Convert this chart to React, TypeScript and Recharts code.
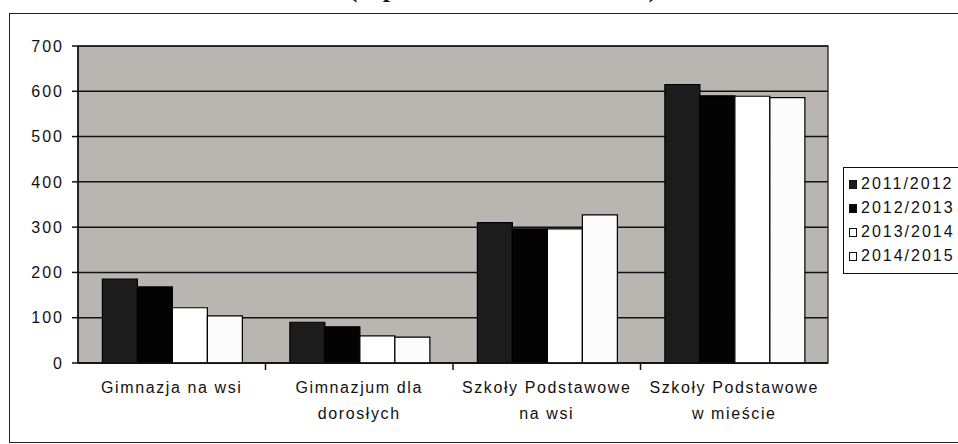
import { BarChart, Bar, XAxis, YAxis, CartesianGrid, ReferenceArea } from 'recharts'

// ─── Data ─────────────────────────────────────────────────────────────────────

const categories = [
  'Gimnazja na wsi',
  'Gimnazjum dla\ndorosłych',
  'Szkoły Podstawowe\nna wsi',
  'Szkoły Podstawowe\nw mieście',
]

const seriesNames = ['2011/2012', '2012/2013', '2013/2014', '2014/2015']

const values2011 = [185, 90, 310, 615]
const values2012 = [168, 80, 296, 590]
const values2013 = [122, 60, 296, 589]
const values2014 = [104, 57, 327, 586]

const yTicks = [0, 100, 200, 300, 400, 500, 600, 700]

const seriesFills = ['#1c1c1c', '#030303', '#ffffff', '#fcfcfc']

const data = categories.map((name, i) => ({
  name,
  s2011: values2011[i],
  s2012: values2012[i],
  s2013: values2013[i],
  s2014: values2014[i],
}))

const seriesKeys = ['s2011', 's2012', 's2013', 's2014']

const FONT = '"Liberation Sans", Arial, sans-serif'

// ─── Axis tick (labels centred, tick marks on category boundaries) ───────────

function CategoryTick(props: any) {
  const { x, y, payload, index } = props
  const lines = String(payload.value).split('\n')
  const half = 750 / categories.length / 2
  return (
    <g>
      {index > 0 && (
        <line x1={x - half} x2={x - half} y1={y} y2={y + 7} stroke="#111" strokeWidth={1.5} />
      )}
      <text
        x={x}
        y={y}
        textAnchor="middle"
        fontFamily={FONT}
        fontSize={16}
        letterSpacing={1.6}
        fill="#111"
      >
        {lines.map((l, i) => (
          <tspan key={i} x={x} dy={i === 0 ? 30 : 26}>
            {l}
          </tspan>
        ))}
      </text>
    </g>
  )
}

// ─── Legend ───────────────────────────────────────────────────────────────────

function LegendBox() {
  return (
    <div
      style={{
        position: 'absolute',
        left: 843,
        top: 167,
        width: 130,
        border: '1.5px solid #111',
        borderRight: 'none',
        background: '#fff',
        padding: '4px 0 5px 5px',
        fontFamily: FONT,
        fontSize: 16,
        letterSpacing: 2,
        color: '#111',
      }}
    >
      {seriesNames.map((n, i) => (
        <div key={n} style={{ display: 'flex', alignItems: 'center', height: 24 }}>
          <span
            style={{
              display: 'inline-block',
              width: 8,
              height: 9,
              background: seriesFills[i],
              border: '1.2px solid #111',
              marginRight: 4,
              boxSizing: 'border-box',
            }}
          />
          {n}
        </div>
      ))}
    </div>
  )
}

// ─── Component ────────────────────────────────────────────────────────────────

export default function App() {
  return (
    <div
      style={{
        position: 'absolute',
        left: 0,
        top: 0,
        width: 958,
        height: 444,
        background: '#fff',
        overflow: 'hidden',
      }}
    >
      {/* Title, clipped by the top edge as in the scan */}
      <div
        style={{
          position: 'absolute',
          left: 0,
          width: 1006,
          top: -26,
          textAlign: 'center',
          fontFamily: '"Liberation Serif", "Times New Roman", serif',
          fontWeight: 'bold',
          fontSize: 26,
          color: '#111',
        }}
      >
        (w przeliczeniu na uczniów)
      </div>

      {/* Outer frame */}
      <div
        style={{
          position: 'absolute',
          left: 9,
          top: 13,
          width: 970,
          height: 428,
          border: '1.5px solid #222',
        }}
      />

      <BarChart
        width={958}
        height={444}
        data={data}
        margin={{ top: 46, right: 130, left: 8, bottom: 21 }}
        barCategoryGap="13%"
        barGap={0}
        style={{ position: 'absolute', left: 0, top: 0 }}
      >
        <CartesianGrid
          vertical={false}
          fill="#b9b6b1"
          fillOpacity={1}
          stroke="#111"
          strokeWidth={1.5}
          strokeOpacity={1}
        />
        <ReferenceArea y1={0} y2={700} fill="none" stroke="#111" strokeWidth={1.2} />
        <XAxis
          dataKey="name"
          height={60}
          interval={0}
          tickLine={false}
          tickSize={0}
          tickMargin={0}
          axisLine={{ stroke: '#111', strokeWidth: 1.5 }}
          tick={<CategoryTick />}
        />
        <YAxis
          width={70}
          domain={[0, 700]}
          ticks={yTicks}
          interval={0}
          tickSize={6}
          tickMargin={8}
          axisLine={{ stroke: '#111', strokeWidth: 1.5 }}
          tickLine={{ stroke: '#111', strokeWidth: 1.5 }}
          tick={{ fontFamily: FONT, fontSize: 16, fill: '#111', letterSpacing: 2 }}
        />
        {seriesKeys.map((k, i) => (
          <Bar
            key={k}
            dataKey={k}
            name={seriesNames[i]}
            fill={seriesFills[i]}
            stroke="#000"
            strokeWidth={1.2}
            isAnimationActive={false}
          />
        ))}
      </BarChart>

      <LegendBox />
    </div>
  )
}
